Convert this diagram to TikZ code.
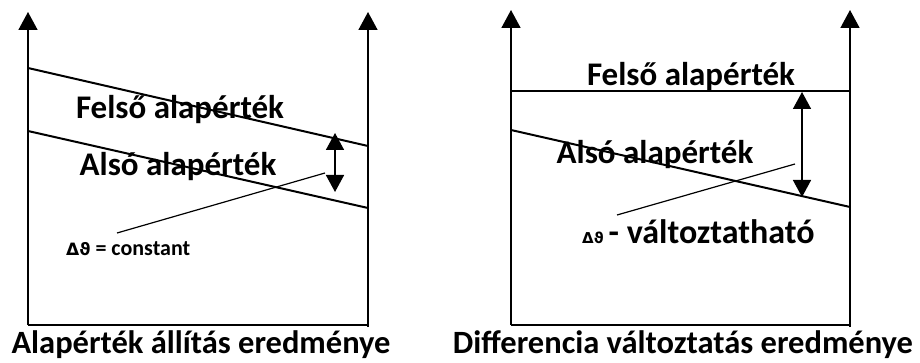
\documentclass[tikz,border=0pt]{standalone}
\usepackage{fontspec}
\setmainfont{Carlito}
\newfontfamily\greekfont{DejaVu Sans}
\usetikzlibrary{arrows.meta}
\begin{document}
\begin{tikzpicture}[x=1pt,y=-1pt,
  axis/.style={line width=1.6pt,-{Triangle[length=18pt,width=19pt]}},
  limit/.style={line width=2pt},
  span/.style={line width=1.6pt,{Triangle[length=17pt,width=18pt]}-{Triangle[length=17pt,width=18pt]}},
  lead/.style={line width=1.2pt},
  lbl/.style={inner sep=0pt,font=\bfseries\fontsize{33}{36}\selectfont},
  note/.style={inner sep=0pt,font=\bfseries\fontsize{22}{24}\selectfont},
  title/.style={inner sep=0pt,font=\bfseries\fontsize{32.5}{36}\selectfont}]
\useasboundingbox (0,0) rectangle (920,363);
% left panel: setpoint shift
\coordinate (la) at (28,325);
\coordinate (lb) at (368,327);
\draw[axis] (la) -- (28,12);
\draw[axis] (lb) -- (368,12);
\draw[line width=1.6pt] (la) -- (368,325);
\draw[limit] (28,68) -- (368,146);
\draw[limit] (28,131) -- (368,208);
\coordinate (lt) at (335,133);
\coordinate (lu) at (335,192);
\draw[span] (lt) -- (lu);
\node[lbl] (lfel) at (180,110) {Felső alapérték};
\node[lbl] (lals) at (178,167) {Alsó alapérték};
\node[note,anchor=west] (ldt) at (66,249) {{\greekfont\fontsize{17}{20}\selectfont Δϑ} = constant};
\coordinate (lq) at (325,173);
\draw[lead] (117,233) -- (lq);
\node[title] (lcap) at (201,345) {Alapérték állítás eredménye};
% right panel: difference shift
\coordinate (ra) at (511,325);
\coordinate (rb) at (850,327);
\draw[axis] (ra) -- (511,10);
\draw[axis] (rb) -- (850,10);
\draw[line width=1.6pt] (ra) -- (850,325);
\draw[limit] (511,91) -- (850,91);
\draw[limit] (511,130) -- (850,207);
\coordinate (rt) at (802,92);
\coordinate (ru) at (802,197);
\draw[span] (rt) -- (ru);
\node[lbl] (rfel) at (691,77) {Felső alapérték};
\node[lbl] (rals) at (655,155) {Alsó alapérték};
\node[note,anchor=west] (rdt) at (582,232) {{\greekfont\fontsize{15}{16}\selectfont Δϑ} {\fontsize{34}{36}\selectfont - változtatható}};
\coordinate (rq) at (795,164);
\draw[lead] (617,215) -- (rq);
\node[title] (rcap) at (683,345) {Differencia változtatás eredménye};
\end{tikzpicture}
\end{document}
